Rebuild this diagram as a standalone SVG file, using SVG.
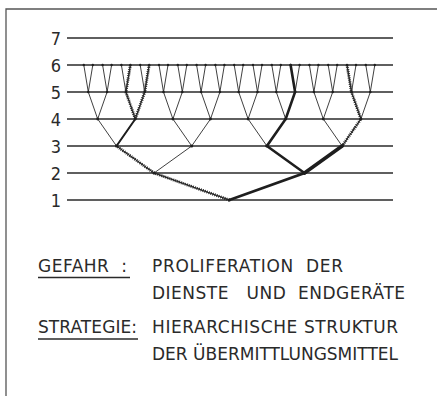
<svg xmlns="http://www.w3.org/2000/svg" width="437" height="396" viewBox="0 0 437 396">
<style>
.frame{stroke:#555;stroke-width:1.3;fill:none}
.lvl{stroke:#2a2a2a;stroke-width:1.3}
.thin{stroke:#2a2a2a;stroke-width:0.9;fill:none}
.thick{stroke:#1e1e1e;fill:none;stroke-linecap:round}
.hb{stroke:#2a2a2a;stroke-width:1;fill:none}
.hd{stroke:#2a2a2a;stroke-width:3;fill:none;stroke-dasharray:1 1.1}
.num{font-family:"DejaVu Sans Condensed","DejaVu Sans",sans-serif;font-stretch:condensed;font-size:18px;fill:#2a2a2a;text-anchor:end}
.txt{font-family:"DejaVu Sans",sans-serif;font-size:17px;fill:#2a2a2a;white-space:pre}
.dot{fill:#1e1e1e}
</style>
<rect width="437" height="396" fill="#fff"/>
<path class="frame" d="M6,396 V9 H437"/>
<g id="levels">
<line class="lvl" x1="67" y1="38" x2="393" y2="38"/>
<line class="lvl" x1="67" y1="65" x2="393" y2="65"/>
<line class="lvl" x1="67" y1="92" x2="393" y2="92"/>
<line class="lvl" x1="67" y1="119" x2="393" y2="119"/>
<line class="lvl" x1="67" y1="146" x2="393" y2="146"/>
<line class="lvl" x1="67" y1="173" x2="393" y2="173"/>
<line class="lvl" x1="67" y1="200" x2="393" y2="200"/>
<text class="num" x="61" y="44.5">7</text>
<text class="num" x="61" y="71.5">6</text>
<text class="num" x="61" y="98.5">5</text>
<text class="num" x="61" y="125.5">4</text>
<text class="num" x="61" y="152.5">3</text>
<text class="num" x="61" y="179.5">2</text>
<text class="num" x="61" y="206.5">1</text>
</g>
<g id="connectors">
<path class="thin" d="M83.8,65 L88.3,92 L92.8,65 M102.6,65 L107.1,92 L111.6,65 M121.4,65 L125.9,92 L130.4,65 M140.2,65 L144.7,92 L149.2,65 M159,65 L163.5,92 L168,65 M177.8,65 L182.3,92 L186.8,65 M196.6,65 L201.1,92 L205.6,65 M215.4,65 L219.9,92 L224.4,65 M234.2,65 L238.7,92 L243.2,65 M253,65 L257.5,92 L262,65 M271.8,65 L276.3,92 L280.8,65 M290.6,65 L295.1,92 L299.6,65 M309.4,65 L313.9,92 L318.4,65 M328.2,65 L332.7,92 L337.2,65 M347,65 L351.5,92 L356,65 M365.8,65 L370.3,92 L374.8,65"/>
<path class="thin" d="M88.3,92 L97.7,119 L107.1,92 M125.9,92 L135.3,119 L144.7,92 M163.5,92 L172.9,119 L182.3,92 M201.1,92 L210.5,119 L219.9,92 M238.7,92 L248.1,119 L257.5,92 M276.3,92 L285.7,119 L295.1,92 M313.9,92 L323.3,119 L332.7,92 M351.5,92 L360.9,119 L370.3,92"/>
<path class="thin" d="M97.7,119 L116.5,146 L135.3,119 M172.9,119 L191.7,146 L210.5,119 M248.1,119 L266.9,146 L285.7,119 M323.3,119 L342.1,146 L360.9,119"/>
<path class="thin" d="M116.5,146 L154.1,173 L191.7,146 M266.9,146 L304.5,173 L342.1,146 M154.1,173 L229.3,200 L304.5,173"/>
<path class="hb" d="M229.3,200 L154.1,173 L116.5,146 M125.9,92 L135.3,119 L144.7,92 M130.4,65 L125.9,92 M149.2,65 L144.7,92 M347,65 L351.5,92 L360.9,119 L342.1,146"/>
<path class="hd" d="M229.3,200 L154.1,173 L116.5,146 M125.9,92 L135.3,119 L144.7,92 M130.4,65 L125.9,92 M149.2,65 L144.7,92 M347,65 L351.5,92 L360.9,119 L342.1,146"/>
<path class="thick" stroke-width="2" d="M116.5,146 L135.3,119"/>
<path class="thick" stroke-width="2.6" d="M229.3,200 L304.5,173 L266.9,146 L285.7,119 L295.1,92 L290.6,65"/>
<path class="thick" stroke-width="3.6" d="M304.5,173 L342.1,146"/>
</g>
<g id="nodes">
<g class="dot">
<circle cx="83.8" cy="65" r="1.2"/><circle cx="92.8" cy="65" r="1.2"/><circle cx="102.6" cy="65" r="1.2"/><circle cx="111.6" cy="65" r="1.2"/>
<circle cx="121.4" cy="65" r="1.2"/><circle cx="130.4" cy="65" r="1.2"/><circle cx="140.2" cy="65" r="1.2"/><circle cx="149.2" cy="65" r="1.2"/>
<circle cx="159" cy="65" r="1.2"/><circle cx="168" cy="65" r="1.2"/><circle cx="177.8" cy="65" r="1.2"/><circle cx="186.8" cy="65" r="1.2"/>
<circle cx="196.6" cy="65" r="1.2"/><circle cx="205.6" cy="65" r="1.2"/><circle cx="215.4" cy="65" r="1.2"/><circle cx="224.4" cy="65" r="1.2"/>
<circle cx="234.2" cy="65" r="1.2"/><circle cx="243.2" cy="65" r="1.2"/><circle cx="253" cy="65" r="1.2"/><circle cx="262" cy="65" r="1.2"/>
<circle cx="271.8" cy="65" r="1.2"/><circle cx="280.8" cy="65" r="1.2"/><circle cx="290.6" cy="65" r="1.2"/><circle cx="299.6" cy="65" r="1.2"/>
<circle cx="309.4" cy="65" r="1.2"/><circle cx="318.4" cy="65" r="1.2"/><circle cx="328.2" cy="65" r="1.2"/><circle cx="337.2" cy="65" r="1.2"/>
<circle cx="347" cy="65" r="1.2"/><circle cx="356" cy="65" r="1.2"/><circle cx="365.8" cy="65" r="1.2"/><circle cx="374.8" cy="65" r="1.2"/>
<circle cx="88.3" cy="92" r="1.3"/><circle cx="107.1" cy="92" r="1.3"/><circle cx="125.9" cy="92" r="1.3"/><circle cx="144.7" cy="92" r="1.3"/>
<circle cx="163.5" cy="92" r="1.3"/><circle cx="182.3" cy="92" r="1.3"/><circle cx="201.1" cy="92" r="1.3"/><circle cx="219.9" cy="92" r="1.3"/>
<circle cx="238.7" cy="92" r="1.3"/><circle cx="257.5" cy="92" r="1.3"/><circle cx="276.3" cy="92" r="1.3"/><circle cx="295.1" cy="92" r="1.3"/>
<circle cx="313.9" cy="92" r="1.3"/><circle cx="332.7" cy="92" r="1.3"/><circle cx="351.5" cy="92" r="1.3"/><circle cx="370.3" cy="92" r="1.3"/>
<circle cx="97.7" cy="119" r="1.4"/><circle cx="135.3" cy="119" r="1.4"/><circle cx="172.9" cy="119" r="1.4"/><circle cx="210.5" cy="119" r="1.4"/>
<circle cx="248.1" cy="119" r="1.4"/><circle cx="285.7" cy="119" r="1.4"/><circle cx="323.3" cy="119" r="1.4"/><circle cx="360.9" cy="119" r="1.4"/>
<circle cx="116.5" cy="146" r="1.5"/><circle cx="191.7" cy="146" r="1.5"/><circle cx="266.9" cy="146" r="1.5"/><circle cx="342.1" cy="146" r="1.5"/>
<circle cx="154.1" cy="173" r="1.6"/><circle cx="304.5" cy="173" r="1.6"/>
<circle cx="229.3" cy="200" r="1.6"/>
</g>
</g>
<g id="legend">
<text class="txt" x="38" y="272" textLength="89">GEFAHR  :</text>
<line class="lvl" x1="38" y1="277.5" x2="130" y2="277.5"/>
<text class="txt" x="152" y="272" textLength="191">PROLIFERATION  DER</text>
<text class="txt" x="152" y="299" textLength="253">DIENSTE   UND  ENDGERÄTE</text>
<text class="txt" x="38" y="333" textLength="99">STRATEGIE:</text>
<line class="lvl" x1="38" y1="339" x2="138" y2="339"/>
<text class="txt" x="152" y="333" textLength="246">HIERARCHISCHE STRUKTUR</text>
<text class="txt" x="152" y="360" textLength="246">DER ÜBERMITTLUNGSMITTEL</text>
</g>
</svg>
